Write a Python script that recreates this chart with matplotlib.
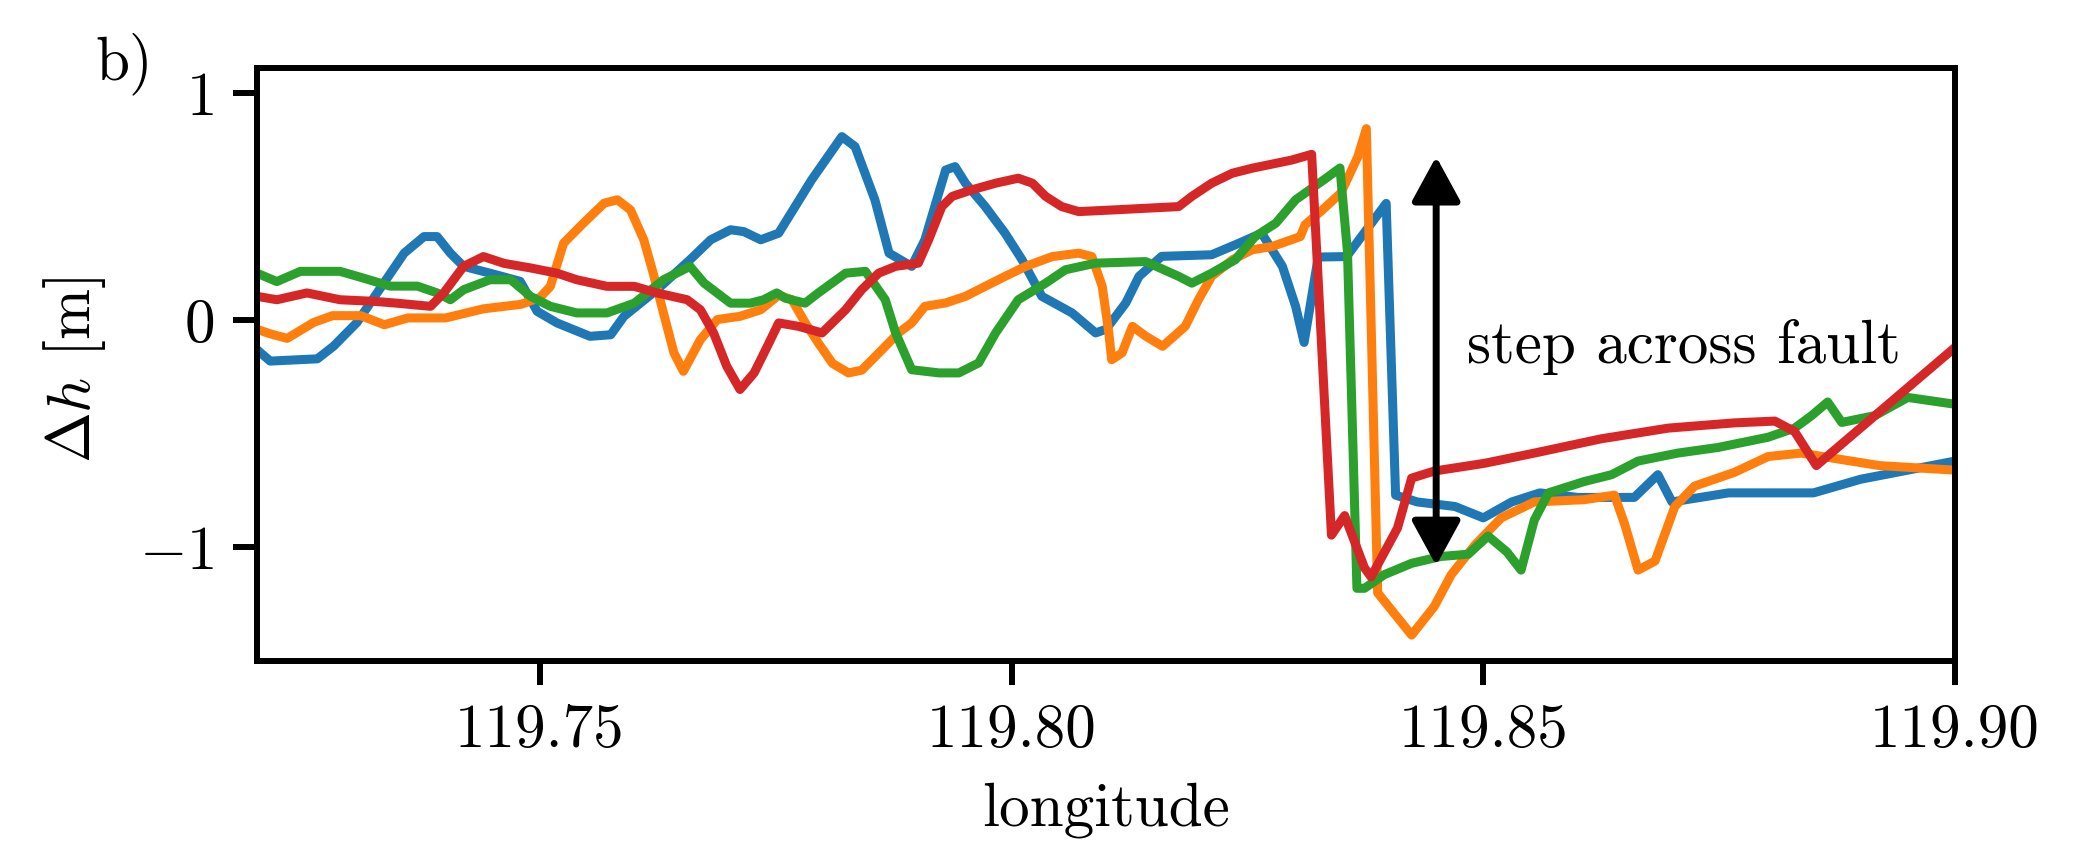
import matplotlib
matplotlib.use("Agg")
import matplotlib.pyplot as plt

plt.rcParams['font.family'] = 'cmr10'
plt.rcParams['mathtext.fontset'] = 'cm'
plt.rcParams['axes.formatter.use_mathtext'] = True

# ---------------- data (longitude, elevation difference) ----------------
blue_lon = [119.7200, 119.7214, 119.7264, 119.7281, 119.7306, 119.7356, 119.7377, 119.7391,
            119.7405, 119.7419, 119.7447, 119.7479, 119.7497, 119.7518, 119.7553, 119.7575,
            119.7589, 119.7624, 119.7659, 119.7681, 119.7702, 119.7716, 119.7734, 119.7753,
            119.7788, 119.7820, 119.7834, 119.7855, 119.7870, 119.7894, 119.7908, 119.7930,
            119.7940, 119.7951, 119.7972, 119.7993, 119.8011, 119.8032, 119.8064, 119.8089,
            119.8100, 119.8121, 119.8135, 119.8159, 119.8212, 119.8241, 119.8265, 119.8287,
            119.8301, 119.8310, 119.8325, 119.8355, 119.8397, 119.8407, 119.8430, 119.8470,
            119.8500, 119.8530, 119.8560, 119.8600, 119.8660, 119.8685, 119.8700, 119.8760,
            119.8850, 119.8900, 119.9000]
blue_dh = [-0.13, -0.18, -0.17, -0.115, -0.01, 0.295, 0.368, 0.368,
           0.295, 0.237, 0.207, 0.171, 0.039, -0.012, -0.071, -0.064,
           0.017, 0.134, 0.266, 0.354, 0.398, 0.39, 0.354, 0.383,
           0.618, 0.808, 0.764, 0.530, 0.295, 0.237, 0.354, 0.661,
           0.676, 0.603, 0.500, 0.383, 0.266, 0.105, 0.032, -0.056,
           -0.04, 0.076, 0.193, 0.281, 0.288, 0.339, 0.383, 0.237,
           0.061, -0.098, 0.278, 0.28, 0.514, -0.77, -0.80, -0.82,
           -0.87, -0.80, -0.76, -0.78, -0.78, -0.68, -0.80, -0.76,
           -0.76, -0.70, -0.62]

orange_lon = [119.7200, 119.7214, 119.7232, 119.7260, 119.7280, 119.7310, 119.7335, 119.7360,
              119.7400, 119.7440, 119.7480, 119.7500, 119.7511, 119.7525, 119.7546, 119.7568,
              119.7582, 119.7596, 119.7610, 119.7620, 119.7631, 119.7642, 119.7652, 119.7670,
              119.7688, 119.7712, 119.7734, 119.7753, 119.7767, 119.7781, 119.7795, 119.7810,
              119.7827, 119.7841, 119.7859, 119.7880, 119.7894, 119.7908, 119.7930, 119.7951,
              119.7972, 119.7993, 119.8015, 119.8043, 119.8071, 119.8085, 119.8096, 119.8103,
              119.8106, 119.8117, 119.8128, 119.8142, 119.8160, 119.8184, 119.8198, 119.8212,
              119.8234, 119.8255, 119.8276, 119.8306, 119.8311, 119.8328, 119.8349, 119.8367,
              119.8376, 119.8388, 119.8424, 119.8448, 119.8466, 119.8491, 119.8519, 119.8554,
              119.8607, 119.8639, 119.8650, 119.8664, 119.8682, 119.8703, 119.8724, 119.8766,
              119.8802, 119.8837, 119.8920, 119.9000]
orange_dh = [-0.04, -0.06, -0.08, -0.01, 0.02, 0.02, -0.02, 0.01,
             0.01, 0.05, 0.07, 0.10, 0.149, 0.339, 0.427, 0.515,
             0.53, 0.485, 0.354, 0.207, 0.03, -0.144, -0.225, -0.086,
             0.003, 0.017, 0.046, 0.11, 0.09, -0.01, -0.10, -0.19,
             -0.232, -0.22, -0.145, -0.056, -0.012, 0.061, 0.076, 0.105,
             0.149, 0.193, 0.237, 0.28, 0.295, 0.28, 0.149, -0.056,
             -0.174, -0.144, -0.027, -0.07, -0.115, -0.027, 0.09, 0.193,
             0.266, 0.31, 0.324, 0.368, 0.42, 0.48, 0.56, 0.72,
             0.843, -1.2, -1.386, -1.26, -1.12, -0.99, -0.87, -0.80,
             -0.79, -0.77, -0.90, -1.10, -1.06, -0.82, -0.73, -0.67,
             -0.60, -0.585, -0.64, -0.66]

green_lon = [119.7200, 119.7221, 119.7246, 119.7288, 119.7313, 119.7341, 119.7370, 119.7391,
             119.7405, 119.7419, 119.7447, 119.7469, 119.7490, 119.7511, 119.7539, 119.7571,
             119.7600, 119.7631, 119.7659, 119.7674, 119.7702, 119.7723, 119.7737, 119.7751,
             119.7760, 119.7781, 119.7795, 119.7824, 119.7845, 119.7866, 119.7877, 119.7894,
             119.7923, 119.7944, 119.7965, 119.7983, 119.8007, 119.8036, 119.8057, 119.8089,
             119.8142, 119.8177, 119.8191, 119.8212, 119.8237, 119.8258, 119.8280, 119.8301,
             119.8335, 119.8348, 119.8356, 119.8366, 119.8374, 119.8395, 119.8424, 119.8455,
             119.8484, 119.8505, 119.8525, 119.8540, 119.8554, 119.8569, 119.8607, 119.8636,
             119.8664, 119.8706, 119.8749, 119.8802, 119.8830, 119.8848, 119.8865, 119.8880,
             119.8915, 119.8950, 119.9000]
green_dh = [0.207, 0.17, 0.215, 0.215, 0.185, 0.15, 0.15, 0.12,
            0.09, 0.134, 0.178, 0.178, 0.105, 0.061, 0.032, 0.032,
            0.075, 0.178, 0.237, 0.163, 0.075, 0.075, 0.09, 0.12,
            0.097, 0.075, 0.12, 0.207, 0.215, 0.09, -0.056, -0.218,
            -0.232, -0.232, -0.188, -0.056, 0.09, 0.163, 0.222, 0.251,
            0.258, 0.193, 0.163, 0.207, 0.266, 0.368, 0.427, 0.53,
            0.63, 0.67, 0.30, -1.18, -1.18, -1.12, -1.07, -1.04,
            -1.03, -0.95, -1.02, -1.10, -0.88, -0.76, -0.71, -0.68,
            -0.62, -0.585, -0.56, -0.515, -0.475, -0.42, -0.36, -0.45,
            -0.42, -0.34, -0.37]

red_lon = [119.7200, 119.7221, 119.7253, 119.7288, 119.7324, 119.7348, 119.7384, 119.7398,
           119.7419, 119.7440, 119.7462, 119.7490, 119.7518, 119.7539, 119.7571, 119.7600,
           119.7624, 119.7656, 119.7670, 119.7684, 119.7698, 119.7712, 119.7727, 119.7741,
           119.7753, 119.7774, 119.7799, 119.7824, 119.7841, 119.7859, 119.7877, 119.7901,
           119.7912, 119.7926, 119.7937, 119.7958, 119.7983, 119.8007, 119.8022, 119.8036,
           119.8053, 119.8071, 119.8106, 119.8177, 119.8191, 119.8212, 119.8234, 119.8255,
           119.8297, 119.8318, 119.8339, 119.8353, 119.8374, 119.8381, 119.8409, 119.8424,
           119.8448, 119.8501, 119.8554, 119.8625, 119.8696, 119.8766, 119.8809, 119.8830,
           119.8853, 119.9000]
red_dh = [0.105, 0.09, 0.12, 0.09, 0.083, 0.075, 0.061, 0.12,
          0.237, 0.28, 0.25, 0.23, 0.207, 0.178, 0.149, 0.149,
          0.12, 0.09, 0.046, -0.056, -0.203, -0.305, -0.232, -0.115,
          -0.012, -0.027, -0.056, 0.046, 0.134, 0.207, 0.237, 0.251,
          0.354, 0.50, 0.545, 0.574, 0.603, 0.625, 0.603, 0.545,
          0.50, 0.478, 0.485, 0.50, 0.545, 0.603, 0.647, 0.669,
          0.705, 0.73, -0.946, -0.86, -1.09, -1.13, -0.915, -0.695,
          -0.664, -0.63, -0.585, -0.522, -0.475, -0.452, -0.444, -0.49,
          -0.64, -0.12]

series = [(blue_lon, blue_dh, 'C0'), (orange_lon, orange_dh, 'C1'),
          (green_lon, green_dh, 'C2'), (red_lon, red_dh, 'C3')]

x_ticks = [119.75, 119.80, 119.85, 119.90]
x_ticklabels = ['119.75', '119.80', '119.85', '119.90']
y_ticks = [-1, 0, 1]

arrow_lon = 119.845
arrow_bottom, arrow_top = -1.08, 0.72
annot_text = 'step across fault'
annot_pos = (119.8483, -0.19)

# ---------------- figure ----------------
W, H = 2076, 841
fig = plt.figure(figsize=(W / 100, H / 100), dpi=100)
ax = fig.add_axes([257 / W, 1 - 661 / H, (1955 - 257) / W, (661 - 68) / H])

for lon, dh, col in series:
    ax.plot(lon, dh, color=col, lw=6.5, solid_joinstyle='round')

ax.annotate('', xy=(arrow_lon, arrow_top), xytext=(arrow_lon, arrow_bottom),
            arrowprops=dict(arrowstyle='<|-|>,head_length=0.55,head_width=0.3',
                            color='black', lw=5, shrinkA=0, shrinkB=0,
                            mutation_scale=50))
ax.text(annot_pos[0], annot_pos[1], annot_text, fontsize=44, va='baseline', ha='left')

ax.set_xlim(119.72, 119.90)
ax.set_ylim(-1.5, 1.11)
ax.set_xticks(x_ticks)
ax.set_xticklabels(x_ticklabels)
ax.set_yticks(y_ticks)

for s in ax.spines.values():
    s.set_linewidth(4.3)
ax.tick_params(axis='both', which='major', labelsize=44, length=17, width=4.3, pad=14)

ax.set_xlabel('longitude', fontsize=44)
ax.set_ylabel(r'$\Delta h$ [m]', fontsize=44)
ax.yaxis.set_label_coords(-0.088, 0.49)
ax.xaxis.set_label_coords(0.5, -0.205)

fig.text(95 / W, 1 - 80 / H, 'b)', fontsize=44, va='baseline', ha='left')

fig.savefig('out.png', dpi=100, facecolor='white')
